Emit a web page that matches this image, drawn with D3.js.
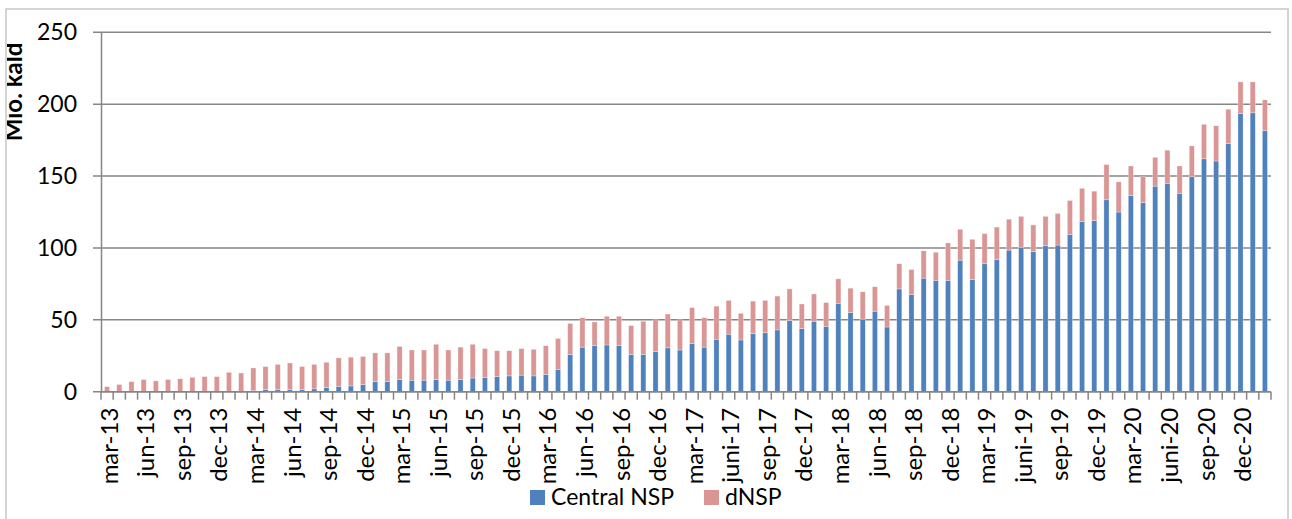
<!DOCTYPE html>
<html>
<head>
<meta charset="utf-8">
<script src="https://cdn.jsdelivr.net/npm/d3@7"></script>
<style>
  body{margin:0;background:#fff;}
  svg text{font-family:Lato,"Open Sans",sans-serif;fill:#000;}
</style>
</head>
<body>
<div id="Chart"></div>
<script>
// monthly, mar-13 .. feb-21
var years=[2013,2014,2015,2016,2017,2018,2019,2020,2021]
var startMonth=3, nMonths=96
var tickLabels=["mar-13","jun-13","sep-13","dec-13","mar-14","jun-14","sep-14","dec-14",
  "mar-15","jun-15","sep-15","dec-15","mar-16","jun-16","sep-16","dec-16",
  "mar-17","juni-17","sep-17","dec-17","mar-18","jun-18","sep-18","dec-18",
  "mar-19","juni-19","sep-19","dec-19","mar-20","juni-20","sep-20","dec-20"]
var centralNSP=[0,0,0,0,0,0,0,0,0,0,0,0,
  1,1.5,1.5,1.5,1.5,2,3,3.5,4,5,7,7,
  8.5,8,8,8.5,8,8.5,9.5,10,10.5,11,11.5,11,
  12,15.5,26,31,32,32.5,32,26,26,28,30.5,29,
  33.5,31,36.5,40,36,40.5,41,43,49.5,44,49,45.5,
  61.5,55,50.5,56,45,71.5,67.5,79,77.5,77.5,91.5,78,
  89,92,98.5,100.5,97.5,101.5,102,109.5,118.5,119,133.5,125,
  136.5,131.5,143,145,138,149.5,162,160.5,172.5,193.5,194,181.5]
var dNSP=[3.5,5,7,8.5,7.5,8.5,9,10,10.5,10.5,13.5,13,
  15.5,16,17.5,18.5,16,17,17.5,20,20,19.5,20,20,
  23,21,21,24.5,21,22.5,23.5,20,18,17.5,18.5,18.5,
  20,21.5,21.5,20.5,16.5,20,20.5,20,23,22,23.5,21,
  25,20.5,23,23.5,18.5,22.5,22.5,23.5,22,17,19,16.5,
  17,17,19,17,15,17.5,17.5,19,19.5,26,21.5,28,
  21,22.5,21.5,21.5,18.5,20.5,22,23.5,23,20.5,24.5,21,
  20.5,18,20,23,19,21.5,24,24.5,24,22,21.5,21.5]
var yTicks=[0,50,100,150,200,250]
var seriesNames=["Central NSP","dNSP"]
var colors=["#4f81bd","#d99694"]

var categories=[]
for(var i=0;i<nMonths;i++){
  var m=startMonth-1+i
  categories.push(years[Math.floor(m/12)]+"-"+String(m%12+1).padStart(2,"0"))
}
var rows=categories.map((c,i)=>({cat:c,"Central NSP":centralNSP[i],"dNSP":dNSP[i]}))

var Width=1292, Height=519
var pLeft=101, pRight=1271, pTop=32.3, pBottom=391.7

var svg=d3.select("#Chart").append("svg")
  .attr("width",Width).attr("height",Height)

// outer chart border
svg.append("rect")
  .attr("x",6).attr("y",9).attr("width",1282).attr("height",Height)
  .attr("fill","none").attr("stroke","#c6c6c6").attr("stroke-width",1.5)

var X=d3.scaleBand().domain(categories).range([pLeft,pRight])
  .paddingInner(0.58).paddingOuter(0.29)
var Y=d3.scaleLinear().domain([0,250]).range([pBottom,pTop])

// gridlines
svg.append("g").selectAll("line").data(yTicks).enter().append("line")
  .attr("x1",pLeft-8).attr("x2",pRight)
  .attr("y1",d=>Y(d)).attr("y2",d=>Y(d))
  .attr("stroke","#868686").attr("stroke-width",1.5)

var stack=d3.stack().keys(seriesNames)(rows)
svg.append("g").selectAll("g").data(stack).enter().append("g")
  .attr("fill",(d,i)=>colors[i])
  .selectAll("rect").data(d=>d).enter().append("rect")
    .attr("x",d=>X(d.data.cat))
    .attr("width",X.bandwidth())
    .attr("y",d=>Y(d[1]))
    .attr("height",d=>Y(d[0])-Y(d[1]))
    .attr("stroke","#fff").attr("stroke-opacity",0.5).attr("stroke-width",0.6)

// y axis
var yAxis=svg.append("g").attr("transform",`translate(${pLeft},0)`)
  .call(d3.axisLeft(Y).tickValues(yTicks).tickSize(0).tickPadding(24))
yAxis.select(".domain").attr("stroke","#868686").attr("stroke-width",1.5)
yAxis.selectAll("text").style("font-size","23px").style("font-family","Lato")

// x axis line + ticks at category boundaries
var bounds=categories.map(c=>X(c)+X.bandwidth()/2-X.step()/2)
bounds.push(pRight)
svg.append("g").selectAll("line").data(bounds).enter().append("line")
  .attr("x1",d=>d).attr("x2",d=>d).attr("y1",pBottom).attr("y2",pBottom+8)
  .attr("stroke","#868686").attr("stroke-width",1.5)
svg.append("line").attr("x1",pLeft).attr("x2",pRight).attr("y1",pBottom).attr("y2",pBottom)
  .attr("stroke","#868686").attr("stroke-width",1.5)

var labelCats=categories.filter((c,i)=>i%3==0)
var xAxis=svg.append("g").attr("transform",`translate(0,${pBottom})`)
  .call(d3.axisBottom(X).tickValues(labelCats).tickSize(0)
    .tickFormat((d,i)=>tickLabels[i]))
xAxis.select(".domain").remove()
xAxis.selectAll("text")
  .style("font-size","24px").style("font-family","Lato")
  .attr("transform","rotate(-90)")
  .attr("x",-16).attr("y",2).attr("dy","0.36em")
  .style("text-anchor","end")

// y title (left edge of the letters is cut by the chart frame, like the original)
var clip=svg.append("defs").append("clipPath").attr("id","clipT")
clip.append("rect").attr("x",7).attr("y",9).attr("width",200).attr("height",500)
svg.append("g").attr("clip-path","url(#clipT)")
  .append("text")
  .attr("transform","translate(22,92) rotate(-90)")
  .attr("text-anchor","middle")
  .style("font-size","24px").style("font-weight","bold")
  .text("Mio. kald")

// legend
var lg=svg.append("g")
var legendX=[530,704]
seriesNames.forEach((n,i)=>{
  lg.append("rect").attr("x",legendX[i]).attr("y",490).attr("width",15).attr("height",15)
    .attr("fill",colors[i])
  lg.append("text").attr("x",legendX[i]+21).attr("y",505)
    .style("font-size","23px").text(n)
})
</script>
</body>
</html>
